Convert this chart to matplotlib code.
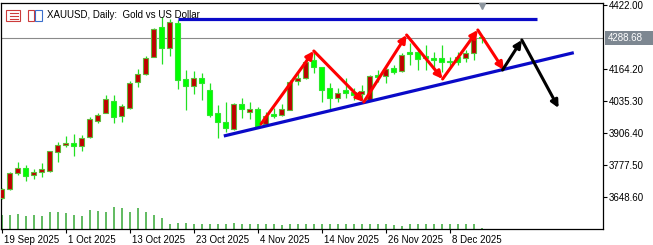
import matplotlib
matplotlib.use("Agg")
import matplotlib.pyplot as plt
import matplotlib.transforms as mtransforms
from matplotlib.patches import Rectangle
import numpy as np

# daily XAUUSD bars, 19 Sep 2025 .. 12 Dec 2025 (index 0 = 19 Sep)
opens = [3646, 3682, 3746, 3767, 3738, 3750, 3755, 3831, 3859, 3867,
         3855, 3891, 3956, 3988, 4037, 3976, 4008, 4113, 4145, 4214,
         4334, 4250, 4351, 4125, 4097, 4129, 4081, 3988, 3952, 3924,
         4024, 3992, 4004, 3944, 3984, 3980, 4000, 4117, 4129, 4202,
         4173, 4089, 4049, 4081, 4073, 4065, 4041, 4141, 4137, 4169,
         4157, 4234, 4234, 4218, 4210, 4210, 4198, 4214, 4210, 4230, 4294]
highs = [3688, 3751, 3791, 3779, 3763, 3787, 3837, 3871, 3895, 3903,
         3899, 3972, 3988, 4061, 4061, 4024, 4117, 4165, 4218, 4330,
         4375, 4367, 4363, 4161, 4157, 4149, 4109, 4020, 4032, 4028,
         4049, 4032, 4012, 3992, 4008, 4024, 4121, 4149, 4222, 4242,
         4175, 4109, 4089, 4129, 4089, 4101, 4141, 4161, 4177, 4181,
         4230, 4270, 4242, 4262, 4234, 4262, 4214, 4234, 4242, 4302, 4298]
lows = [3640, 3678, 3738, 3714, 3722, 3730, 3752, 3791, 3851, 3815,
        3835, 3887, 3948, 3988, 3948, 3952, 4006, 4093, 4143, 4212,
        4185, 4218, 4085, 4000, 4065, 4040, 3972, 3887, 3912, 3920,
        3968, 3964, 3928, 3940, 3968, 3976, 4000, 4101, 4125, 4149,
        4033, 4000, 4033, 4049, 4040, 4041, 4037, 4113, 4109, 4145,
        4153, 4181, 4161, 4161, 4161, 4153, 4169, 4181, 4193, 4202, 4270]
closes = [3684, 3746, 3767, 3734, 3750, 3763, 3835, 3859, 3867, 3855,
          3887, 3964, 3982, 4045, 3972, 4016, 4109, 4145, 4210, 4326,
          4250, 4355, 4121, 4097, 4129, 4109, 3980, 3952, 3928, 4024,
          4004, 4004, 3932, 3976, 3976, 4004, 4113, 4129, 4194, 4173,
          4081, 4049, 4069, 4069, 4061, 4077, 4137, 4135, 4165, 4153,
          4222, 4226, 4206, 4210, 4202, 4194, 4194, 4194, 4230, 4286, 4288.68]
volumes = [41, 41, 46, 40, 43, 40, 51, 51, 49, 43,
           40, 58, 55, 52, 67, 64, 51, 64, 51, 43,
           33, 16, 19, 18, 15, 16, 15, 15, 15, 19,
           15, 15, 15, 15, 15, 13, 15, 15, 15, 15,
           15, 15, 15, 15, 15, 15, 15, 15, 15, 13,
           10, 15, 15, 15, 15, 15, 15, 15, 15, 15, 4]

date_ticks = [0, 8, 16, 24, 32, 40, 48, 56]
date_labels = ["19 Sep 2025", "1 Oct 2025", "13 Oct 2025", "23 Oct 2025",
               "4 Nov 2025", "14 Nov 2025", "26 Nov 2025", "8 Dec 2025"]
price_ticks = [3648.60, 3777.50, 3906.40, 4035.30, 4164.20, 4422.00]
bid = 4288.68

# drawn objects (bar index, price)
resist_x, resist_y = [22, 66.9], [4366.8, 4366.8]
support_x, support_y = [27.75, 71.5], [3895.5, 4231.1]
red_x = [32.4, 39.0, 45.25, 50.6, 55.1, 59.5, 62.75]
red_y = [3943.9, 4237.9, 4032.5, 4302.3, 4125.1, 4322.5, 4161.4]
black_x = [62.6, 65.0, 69.6]
black_y = [4161.4, 4282.2, 4008.3]

W, H = 653, 245
fig = plt.figure(figsize=(W / 100, H / 100), dpi=100)
fig.patch.set_facecolor("white")
ax = fig.add_axes([1 / W, (H - 229) / H, 602 / W, 226 / H])
ax.set_xlim(-0.1, -0.1 + 602 / 8)
ax.set_ylim(3520.9, 4431.2)

font = "Liberation Sans"

# volumes on their own scale at the bottom
axv = ax.twinx()
axv.set_ylim(0, 678)
idx = np.arange(len(closes))
axv.vlines(idx, 0, volumes, color="#35a835", lw=1.1)
axv.set_yticks([])
for s in axv.spines.values():
    s.set_visible(False)
ax.set_zorder(axv.get_zorder() + 1)
ax.patch.set_visible(False)

ax.axhline(bid, color="#8a8a8a", lw=0.8, zorder=0.5)

# candles
o = np.array(opens); c = np.array(closes)
up = c >= o
ax.vlines(idx, lows, highs, color="#22e022", lw=0.9, zorder=2)
body_lo = np.minimum(o, c)
body_h = np.maximum(np.abs(c - o), 2.0)
ax.bar(idx[up], body_h[up], bottom=body_lo[up], width=0.62,
       color="#c00000", edgecolor="#5fb83a", lw=0.8, zorder=3)
ax.bar(idx[~up], body_h[~up], bottom=body_lo[~up], width=0.62,
       color="#00ff00", edgecolor="#2ee62e", lw=0.8, zorder=3)

# trend lines
ax.plot(resist_x, resist_y, color="#0a0ac8", lw=2.3, zorder=4, solid_capstyle="butt")
ax.plot(support_x, support_y, color="#0a0ac8", lw=2.3, zorder=4, solid_capstyle="butt")

def arrows(xs, ys, col):
    for k in range(len(xs) - 1):
        ax.annotate("", xy=(xs[k + 1], ys[k + 1]), xytext=(xs[k], ys[k]),
                    arrowprops=dict(arrowstyle="-|>", color=col, lw=2.2,
                                    mutation_scale=11, shrinkA=0, shrinkB=0),
                    zorder=5)

arrows(red_x, red_y, "#ff0000")
arrows(black_x, black_y, "#000000")

# axes styling
for s in ax.spines.values():
    s.set_color("black")
    s.set_linewidth(0.9)
ax.yaxis.tick_right()
ax.set_yticks(price_ticks)
ax.set_yticklabels(["%.2f" % p for p in price_ticks], fontsize=7, family=font)
ax.tick_params(axis="y", direction="out", length=3, width=0.8, pad=1)
ax.set_xticks(date_ticks)
ax.set_xticklabels(date_labels, fontsize=7, family=font)
ax.tick_params(axis="x", direction="out", length=3, width=0.8, pad=1.5)
off = mtransforms.ScaledTranslation(2 / 100, 0, fig.dpi_scale_trans)
for lbl in ax.get_xticklabels():
    lbl.set_horizontalalignment("left")
    lbl.set_transform(lbl.get_transform() + off)

# current price tag
tr = mtransforms.blended_transform_factory(ax.transAxes, ax.transData)
ax.add_patch(Rectangle((1 + 2 / 602, bid - 7 * 4.028), 50 / 602, 14 * 4.028,
                       transform=tr, facecolor="#7d8791", edgecolor="none",
                       clip_on=False, zorder=6))
ax.text(1 + 5 / 602, bid, "%.2f" % bid, transform=tr, color="white",
        fontsize=7, family=font, va="center", ha="left", zorder=7, clip_on=False)

# shift marker at top
trx = mtransforms.blended_transform_factory(ax.transData, ax.transAxes)
ax.plot([len(closes) - 1], [0.985], marker="v", ms=5, color="#8c959e",
        transform=trx, clip_on=False, zorder=6)

# title and icons
fig.text(47 / W, 1 - 15 / H, "XAUUSD, Daily:  Gold vs US Dollar",
         fontsize=7, family=font, va="center", ha="left")
fig.patches.append(Rectangle((6 / W, 1 - 21 / H), 14 / W, 11 / H,
                             transform=fig.transFigure, fill=False,
                             edgecolor="#cc3b3b", lw=0.8))
for yy in (13, 16, 19):
    fig.lines.append(plt.Line2D([10 / W, 18 / W], [1 - yy / H, 1 - yy / H],
                                transform=fig.transFigure, color="#cc3b3b", lw=0.8))
fig.patches.append(Rectangle((28 / W, 1 - 21 / H), 6 / W, 11 / H,
                             transform=fig.transFigure, fill=False,
                             edgecolor="#cc3b3b", lw=0.8))
fig.patches.append(Rectangle((35 / W, 1 - 21 / H), 7 / W, 11 / H,
                             transform=fig.transFigure, fill=False,
                             edgecolor="#3b6fcc", lw=0.8))

fig.savefig("out.png", dpi=100)
